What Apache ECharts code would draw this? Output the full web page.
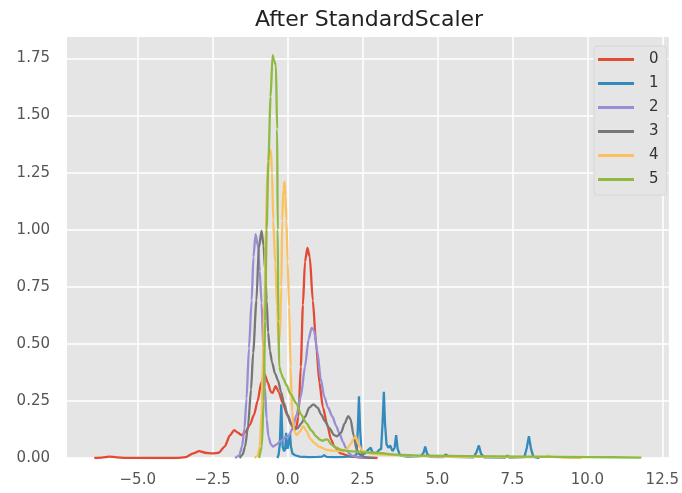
<!DOCTYPE html>
<html>
<head>
<meta charset="utf-8">
<title>After StandardScaler</title>
<script src="https://cdn.jsdelivr.net/npm/echarts@6/dist/echarts.min.js"></script>
<style>
  html, body { margin: 0; padding: 0; background: #ffffff; }
  #chart { width: 682px; height: 493px; }
</style>
</head>
<body>
<div id="chart"></div>
<script>
// Kernel density estimates of each scaled feature, as [x, density] pairs.
const seriesNames = ['0', '1', '2', '3', '4', '5'];
const seriesColors = ['#E24A33', '#348ABD', '#988ED5', '#777777', '#FBC15E', '#8EBA42'];

const density0 = [
  [-6.45, 0], [-6.2, 0.002], [-5.95, 0.006], [-5.7, 0.003], [-5.4, 0.0005], [-4.6, 0], [-3.7, 0],
  [-3.4, 0.004], [-3.15, 0.02], [-2.95, 0.03], [-2.75, 0.023], [-2.5, 0.02], [-2.3, 0.023],
  [-2.1, 0.05], [-1.92, 0.1], [-1.78, 0.122], [-1.65, 0.11], [-1.53, 0.1], [-1.4, 0.115],
  [-1.26, 0.145], [-1.12, 0.19], [-1.0, 0.25], [-0.88, 0.33], [-0.77, 0.367], [-0.66, 0.33],
  [-0.56, 0.29], [-0.5, 0.285], [-0.4, 0.315], [-0.3, 0.29], [-0.16, 0.24], [0.0, 0.185],
  [0.15, 0.145], [0.28, 0.13], [0.36, 0.18], [0.44, 0.4], [0.51, 0.67], [0.58, 0.86],
  [0.66, 0.92], [0.74, 0.88], [0.84, 0.69], [0.95, 0.5], [1.06, 0.33], [1.18, 0.22],
  [1.33, 0.14], [1.45, 0.08], [1.56, 0.05], [1.78, 0.02], [2.1, 0.006], [2.6, 0.001], [3.0, 0]
];

const density1 = [
  [-0.34, 0], [-0.3, 0.015], [-0.26, 0.06], [-0.235, 0.16], [-0.21, 0.235], [-0.19, 0.15],
  [-0.165, 0.05], [-0.12, 0.03], [-0.08, 0.04], [-0.05, 0.11], [-0.025, 0.06], [0.0, 0.04],
  [0.04, 0.07], [0.08, 0.11], [0.11, 0.05], [0.16, 0.02], [0.25, 0.012], [0.4, 0.006],
  [0.7, 0.004], [1.0, 0.005], [1.15, 0.006], [1.22, 0.012], [1.3, 0.005], [1.6, 0.004],
  [1.9, 0.005], [2.2, 0.008], [2.3, 0.015], [2.34, 0.12], [2.38, 0.27], [2.42, 0.12],
  [2.47, 0.015], [2.58, 0.02], [2.68, 0.035], [2.77, 0.045], [2.85, 0.02], [2.95, 0.02],
  [3.05, 0.035], [3.12, 0.04], [3.17, 0.16], [3.21, 0.29], [3.25, 0.15], [3.3, 0.06],
  [3.36, 0.045], [3.42, 0.055], [3.5, 0.03], [3.57, 0.045], [3.62, 0.1], [3.67, 0.04],
  [3.75, 0.012], [4.0, 0.006], [4.45, 0.008], [4.54, 0.025], [4.59, 0.05], [4.65, 0.02],
  [4.75, 0.005], [5.2, 0.004], [5.27, 0.015], [5.32, 0.02], [5.4, 0.005], [6.2, 0.003],
  [6.3, 0.025], [6.38, 0.055], [6.45, 0.02], [6.55, 0.003], [7.25, 0.002], [7.33, 0.01],
  [7.4, 0.002], [7.9, 0.004], [7.98, 0.045], [8.05, 0.095], [8.12, 0.04], [8.2, 0.005], [8.4, 0]
];

const density2 = [
  [-1.75, 0], [-1.62, 0.01], [-1.52, 0.05], [-1.44, 0.13], [-1.37, 0.26], [-1.29, 0.48],
  [-1.2, 0.69], [-1.14, 0.88], [-1.07, 0.98], [-0.99, 0.93], [-0.93, 0.82], [-0.87, 0.68],
  [-0.81, 0.48], [-0.76, 0.31], [-0.7, 0.17], [-0.64, 0.095], [-0.56, 0.06], [-0.48, 0.05],
  [-0.36, 0.06], [-0.22, 0.075], [-0.08, 0.09], [0.05, 0.1], [0.17, 0.13], [0.3, 0.19],
  [0.44, 0.27], [0.58, 0.4], [0.7, 0.52], [0.8, 0.57], [0.88, 0.56], [1.0, 0.46], [1.1, 0.35],
  [1.22, 0.27], [1.35, 0.22], [1.5, 0.18], [1.62, 0.14], [1.72, 0.11], [1.85, 0.07],
  [1.94, 0.045], [2.05, 0.02], [2.15, 0.01], [2.4, 0.002], [2.7, 0]
];

const density3 = [
  [-1.6, 0], [-1.5, 0.015], [-1.42, 0.05], [-1.32, 0.14], [-1.22, 0.3], [-1.15, 0.46],
  [-1.04, 0.69], [-0.96, 0.92], [-0.87, 0.995], [-0.8, 0.93], [-0.75, 0.82], [-0.7, 0.69],
  [-0.65, 0.55], [-0.59, 0.47], [-0.52, 0.42], [-0.42, 0.37], [-0.32, 0.34], [-0.22, 0.29],
  [-0.12, 0.24], [0.0, 0.19], [0.1, 0.15], [0.22, 0.125], [0.32, 0.13], [0.45, 0.15],
  [0.58, 0.18], [0.72, 0.22], [0.86, 0.235], [1.0, 0.22], [1.12, 0.19], [1.25, 0.16],
  [1.4, 0.13], [1.55, 0.1], [1.65, 0.095], [1.78, 0.11], [1.9, 0.15], [2.02, 0.183],
  [2.1, 0.17], [2.2, 0.1], [2.3, 0.04], [2.4, 0.015], [2.6, 0.003], [2.9, 0]
];

const density4 = [
  [-1.1, 0], [-1.0, 0.01], [-0.93, 0.05], [-0.87, 0.2], [-0.82, 0.45], [-0.77, 0.7],
  [-0.72, 1.0], [-0.68, 1.25], [-0.62, 1.33], [-0.56, 1.35], [-0.52, 1.25], [-0.48, 1.04],
  [-0.41, 0.85], [-0.35, 0.66], [-0.3, 0.5], [-0.26, 0.52], [-0.21, 0.75], [-0.18, 1.04],
  [-0.14, 1.18], [-0.1, 1.21], [-0.07, 1.15], [-0.04, 1.04], [0.0, 0.86], [0.05, 0.66],
  [0.1, 0.4], [0.15, 0.2], [0.22, 0.12], [0.3, 0.1], [0.4, 0.115], [0.52, 0.14], [0.62, 0.12],
  [0.75, 0.085], [0.9, 0.065], [1.05, 0.05], [1.28, 0.037], [1.5, 0.032], [1.78, 0.03],
  [1.95, 0.035], [2.1, 0.06], [2.2, 0.085], [2.27, 0.095], [2.36, 0.06], [2.5, 0.03],
  [2.8, 0.02], [3.2, 0.015], [4.0, 0.01], [5.0, 0.006], [6.0, 0.005], [7.0, 0.004],
  [8.0, 0.004], [8.6, 0.006], [8.7, 0.01], [8.8, 0.005], [9.2, 0.002], [9.8, 0]
];

const density5 = [
  [-0.95, 0], [-0.86, 0.05], [-0.8, 0.25], [-0.75, 0.6], [-0.7, 1.0], [-0.64, 1.3],
  [-0.57, 1.58], [-0.5, 1.765], [-0.45, 1.74], [-0.39, 1.72], [-0.35, 1.44], [-0.33, 1.0],
  [-0.31, 0.6], [-0.28, 0.4], [-0.21, 0.37], [-0.15, 0.35], [-0.04, 0.32], [0.1, 0.28],
  [0.29, 0.24], [0.45, 0.19], [0.62, 0.154], [0.8, 0.12], [0.95, 0.095], [1.08, 0.08],
  [1.17, 0.075], [1.25, 0.08], [1.33, 0.082], [1.45, 0.06], [1.61, 0.045], [1.8, 0.035],
  [2.05, 0.03], [2.5, 0.025], [2.94, 0.023], [3.6, 0.015], [4.5, 0.01], [6.0, 0.008],
  [8.0, 0.006], [10.0, 0.004], [11.8, 0.002]
];

const densities = [density0, density1, density2, density3, density4, density5];

// Axis ranges and tick positions
const xRange = [-7.36, 12.72];
const yRange = [0, 1.844];
const xTicks = [-5.0, -2.5, 0.0, 2.5, 5.0, 7.5, 10.0, 12.5];
const yTicks = [0, 0.25, 0.5, 0.75, 1.0, 1.25, 1.5, 1.75];

const FONT = '"DejaVu Sans", "Liberation Sans", sans-serif';

function fmtX(v) {
  return (v < 0 ? '\u2212' : '') + Math.abs(v).toFixed(1);
}

const chart = echarts.init(document.getElementById('chart'), null, { renderer: 'canvas' });

chart.setOption({
  animation: false,
  backgroundColor: '#ffffff',
  title: {
    text: 'After StandardScaler',
    left: 364,
    top: 4,
    textAlign: 'center',
    textStyle: { fontFamily: FONT, fontSize: 22, fontWeight: 'normal', color: '#222222' }
  },
  grid: {
    left: 67, right: 9, top: 37, bottom: 35,
    show: true, backgroundColor: '#E5E5E5', borderWidth: 0
  },
  legend: {
    orient: 'vertical',
    left: 594,
    top: 46,
    data: seriesNames,
    icon: 'rect',
    itemWidth: 36,
    itemHeight: 3,
    itemGap: 9,
    padding: [6, 8, 8, 4],
    backgroundColor: '#E5E5E5',
    borderColor: '#d6d6d6',
    borderWidth: 1,
    borderRadius: 3,
    textStyle: { fontFamily: FONT, fontSize: 15, color: '#333333', lineHeight: 15, padding: [0, 0, 0, 10] }
  },
  xAxis: {
    type: 'value',
    min: xRange[0],
    max: xRange[1],
    axisLine: { show: false },
    axisTick: { show: false, customValues: xTicks },
    axisLabel: {
      customValues: xTicks,
      formatter: fmtX,
      margin: 15,
      fontFamily: FONT, fontSize: 15, color: '#555555'
    },
    splitLine: { show: true, lineStyle: { color: '#ffffff', width: 1.5 } }
  },
  yAxis: {
    type: 'value',
    min: yRange[0],
    max: yRange[1],
    axisLine: { show: false },
    axisTick: { show: false, customValues: yTicks },
    axisLabel: {
      customValues: yTicks,
      formatter: v => v.toFixed(2),
      margin: 17,
      fontFamily: FONT, fontSize: 15, color: '#555555'
    },
    splitLine: { show: true, lineStyle: { color: '#ffffff', width: 1.5 } }
  },
  series: densities.map((d, i) => ({
    name: seriesNames[i],
    type: 'line',
    data: d,
    showSymbol: false,
    symbol: 'none',
    smooth: i === 1 ? false : 0.25,
    smoothMonotone: 'x',
    clip: true,
    color: seriesColors[i],
    lineStyle: { color: seriesColors[i], width: 2.3 }
  }))
});
</script>
</body>
</html>
